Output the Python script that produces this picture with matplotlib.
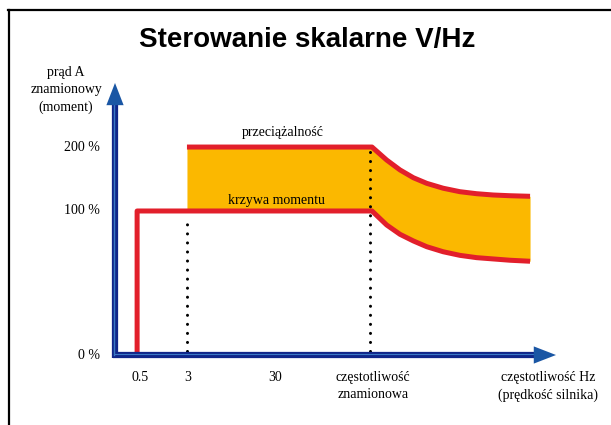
import numpy as np
import matplotlib.pyplot as plt
from matplotlib.lines import Line2D

# schematic units: x = 1.0 at rated frequency, y = 1.0 at 100 %
f_05 = 0.086
f_3 = 0.28
f_30 = 0.623
f_rated = 1.0
x_axis_end = 1.716
y_axis_end = 1.889

y_levels = [0.0, 1.0, 1.444]
y_labels = ["0 %", "100 %", "200 %"]

# field weakening region (above rated frequency)
x_curve = [1.0, 1.057, 1.109, 1.161, 1.213, 1.277, 1.342, 1.407, 1.472, 1.537, 1.615]
overload = [1.444, 1.354, 1.285, 1.231, 1.192, 1.158, 1.134, 1.120, 1.111, 1.106, 1.102]
torque = [1.0, 0.903, 0.838, 0.792, 0.752, 0.717, 0.692, 0.676, 0.667, 0.658, 0.651]

x_labels = ["0.5", "3", "30", "częstotliwość\nznamionowa"]
x_label_pos = [f_05 + 0.01, f_3 + 0.004, f_30, f_rated + 0.004]

RED = "#e21f2b"
YELLOW = "#fbb800"
NAVY = "#10268a"
SERIF = "Liberation Serif"


def draw_chart():
    fig = plt.figure(figsize=(6.11, 4.25), dpi=100)
    ax = fig.add_axes([0, 0, 1, 1])
    ax.set_xlim(-0.4475, 1.930)
    ax.set_ylim(-0.486, 2.465)
    ax.axis("off")

    # frame (top and left only)
    fig.add_artist(Line2D([8 / 611, 610 / 611], [1 - 10 / 425, 1 - 10 / 425],
                          color="black", lw=1.6, transform=fig.transFigure))
    fig.add_artist(Line2D([9 / 611, 9 / 611], [0, 1 - 10 / 425],
                          color="black", lw=1.6, transform=fig.transFigure))

    fig.text(0.503, 1 - 40 / 425, "Sterowanie skalarne V/Hz", ha="center", va="center",
             fontsize=20, fontweight="bold", family="Liberation Sans")

    # yellow band + red limits
    xs = [f_3] + x_curve
    up = [y_levels[2]] + overload
    lo = [y_levels[1]] + torque
    ax.fill_between(xs, lo, up, color=YELLOW, lw=0, zorder=1)
    ax.plot(xs, up, color=RED, lw=3.6, solid_capstyle="butt",
            solid_joinstyle="round", zorder=3)
    ax.plot([f_05, f_05, f_3] + x_curve, [0, 1, 1] + torque, color=RED, lw=3.6,
            solid_joinstyle="round", solid_capstyle="butt", zorder=3)

    # dotted guides
    dots = dict(color="black", lw=2.2, linestyle=(0, (0.01, 2.95)),
                dash_capstyle="round", zorder=4)
    ax.plot([f_3, f_3], [0.03, 0.96], **dots)
    ax.plot([f_rated - 0.006, f_rated - 0.006], [0.03, 1.41], **dots)

    # axes arrows
    ax.plot([0, 0], [-0.02, y_axis_end - 0.14], color=NAVY, lw=4.5,
            solid_capstyle="butt", zorder=5)
    ax.plot([-0.008, x_axis_end - 0.06], [0, 0], color=NAVY, lw=4.5,
            solid_capstyle="butt", zorder=5)
    ax.plot([-0.0055, -0.0055], [0.0, y_axis_end - 0.14], color="#3a78c4", lw=1.0, zorder=6)
    ax.plot([0.0, x_axis_end - 0.06], [0.009, 0.009], color="#3a78c4", lw=0.8, zorder=6)
    head = dict(arrowstyle="-|>,head_length=1.6,head_width=0.62", color="#1a56a4",
                lw=0, shrinkA=0, shrinkB=0, mutation_scale=10)
    ax.annotate("", xy=(0, y_axis_end), xytext=(0, y_axis_end - 0.16),
                arrowprops=head, zorder=7)
    ax.annotate("", xy=(x_axis_end, 0), xytext=(x_axis_end - 0.09, 0),
                arrowprops=head, zorder=7)

    # texts
    ax.text(-0.19, 1.84, "prąd A\nznamionowy\n(moment)", ha="center", va="center",
            fontsize=10, family=SERIF, linespacing=1.4)
    for yv, lab in zip(y_levels, y_labels):
        ax.text(-0.058, yv, lab, ha="right", va="center", fontsize=10, family=SERIF)
    for xv, lab in zip(x_label_pos, x_labels):
        ax.text(xv, -0.11, lab, ha="center", va="top", fontsize=10, family=SERIF,
                linespacing=1.45)
    ax.text(1.685, -0.11, "częstotliwość Hz\n(prędkość silnika)", ha="center", va="top",
            fontsize=10, family=SERIF, linespacing=1.45)
    ax.text(0.654, 1.521, "przeciążalność", ha="center", va="baseline",
            fontsize=10, family=SERIF)
    ax.text(0.630, 1.049, "krzywa momentu", ha="center", va="baseline",
            fontsize=10, family=SERIF)

    fig.savefig("out.png", dpi=100)


if __name__ == "__main__":
    draw_chart()
